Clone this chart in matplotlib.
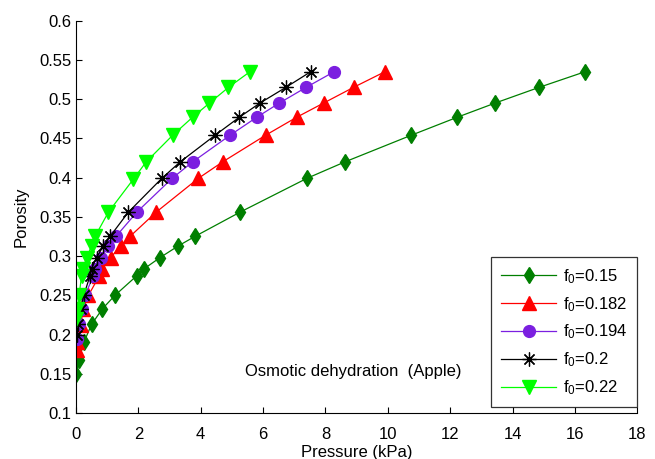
import matplotlib
matplotlib.use("Agg")
import matplotlib.pyplot as plt

plt.rcParams['font.family'] = ['Liberation Sans', 'DejaVu Sans']
plt.rcParams['mathtext.fontset'] = 'custom'
plt.rcParams['mathtext.rm'] = 'Liberation Sans'
plt.rcParams['mathtext.it'] = 'Liberation Sans'
plt.rcParams['mathtext.default'] = 'regular'

# pressure (kPa) vs porosity for each initial porosity f0
p_015 = [0, 0.1, 0.25, 0.5, 0.85, 1.25, 1.95, 2.19, 2.69, 3.28, 3.81, 5.26, 7.40, 8.62, 10.75, 12.23, 13.44, 14.85, 16.33]
phi_015 = [0.15, 0.168, 0.19, 0.213, 0.233, 0.25, 0.275, 0.284, 0.298, 0.313, 0.325, 0.356, 0.399, 0.420, 0.454, 0.477, 0.495, 0.515, 0.535]

p_0182 = [0.02, 0.04, 0.15, 0.23, 0.40, 0.75, 0.82, 1.11, 1.43, 1.73, 2.57, 3.92, 4.70, 6.08, 7.08, 7.94, 8.90, 9.91]
phi_0182 = [0.18, 0.19, 0.212, 0.232, 0.25, 0.275, 0.284, 0.298, 0.313, 0.325, 0.356, 0.399, 0.420, 0.454, 0.477, 0.495, 0.515, 0.535]

p_0194 = [0.03, 0.10, 0.18, 0.29, 0.56, 0.62, 0.79, 1.04, 1.28, 1.95, 3.08, 3.74, 4.94, 5.80, 6.52, 7.38, 8.28]
phi_0194 = [0.194, 0.213, 0.232, 0.25, 0.275, 0.284, 0.298, 0.313, 0.325, 0.356, 0.399, 0.420, 0.454, 0.477, 0.495, 0.515, 0.535]

p_02 = [0.03, 0.08, 0.15, 0.25, 0.45, 0.50, 0.66, 0.88, 1.09, 1.68, 2.75, 3.34, 4.46, 5.24, 5.90, 6.73, 7.53]
phi_02 = [0.2, 0.213, 0.232, 0.25, 0.275, 0.284, 0.298, 0.313, 0.325, 0.356, 0.399, 0.420, 0.454, 0.477, 0.495, 0.515, 0.535]

p_022 = [0.0, 0.04, 0.10, 0.18, 0.23, 0.34, 0.50, 0.61, 1.04, 1.84, 2.25, 3.10, 3.74, 4.28, 4.89, 5.58]
phi_022 = [0.22, 0.233, 0.25, 0.275, 0.284, 0.298, 0.313, 0.325, 0.356, 0.398, 0.420, 0.454, 0.477, 0.495, 0.515, 0.535]

x_ticks = [0, 2, 4, 6, 8, 10, 12, 14, 16, 18]
y_ticks = [0.1, 0.15, 0.2, 0.25, 0.3, 0.35, 0.4, 0.45, 0.5, 0.55, 0.6]

fs = 12

fig = plt.figure(figsize=(6.55, 4.59), dpi=100)
ax = fig.add_axes([0.116, 0.1, 0.857, 0.855])

ax.plot(p_015, phi_015, color='#007f00', marker='d', markersize=8.5, lw=0.9, label='f$_0$=0.15')
ax.plot(p_0182, phi_0182, color='#ff0000', marker='^', markersize=10, lw=0.9, label='f$_0$=0.182')
ax.plot(p_0194, phi_0194, color='#7b1fe0', marker='o', markersize=8.5, lw=0.9, label='f$_0$=0.194')
ax.plot(p_02, phi_02, color='black', marker=(8, 2, 0), markersize=10, lw=0.9,
        markeredgewidth=0.9, label='f$_0$=0.2')
ax.plot(p_022, phi_022, color='#00ff00', marker='v', markersize=10, lw=0.9, label='f$_0$=0.22')

ax.set_xlim(0, 18)
ax.set_ylim(0.1, 0.6)
ax.set_xticks(x_ticks)
ax.set_xticklabels([str(t) for t in x_ticks])
ax.set_yticks(y_ticks)
ax.set_yticklabels(['%g' % t for t in y_ticks])
ax.tick_params(direction='in', length=4, labelsize=fs, width=0.8)
ax.tick_params(axis='x', pad=10)
ax.tick_params(axis='y', pad=3)
ax.spines['top'].set_visible(False)
ax.spines['right'].set_visible(False)
ax.spines['left'].set_linewidth(0.8)
ax.spines['bottom'].set_linewidth(0.8)
ax.set_xlabel('Pressure (kPa)', fontsize=fs, labelpad=2)
ax.set_ylabel('Porosity', fontsize=fs, labelpad=8)

ax.text(5.42, 0.153, 'Osmotic dehydration  (Apple)', fontsize=fs, va='center')

leg = ax.legend(loc='lower right', bbox_to_anchor=(1.0, 0.015), fancybox=False,
                edgecolor='black', fontsize=fs, borderaxespad=0, handlelength=3.3,
                handletextpad=0.4, labelspacing=0.55, borderpad=0.6)
leg.get_frame().set_linewidth(0.9)

fig.savefig('out.png', dpi=100)
